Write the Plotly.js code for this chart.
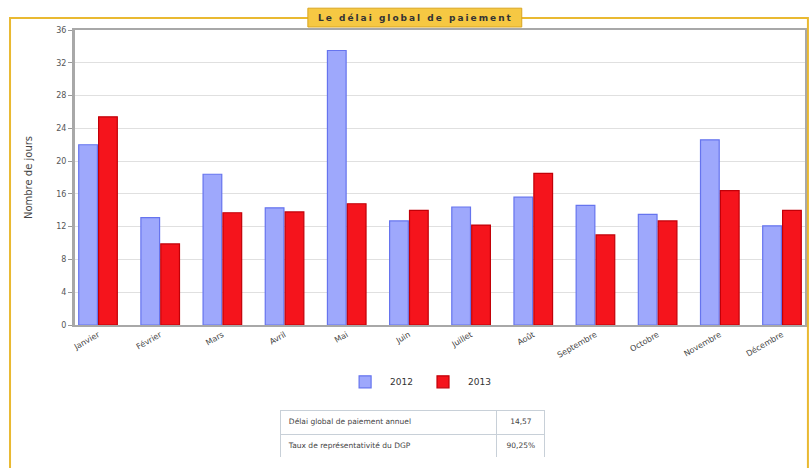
<!DOCTYPE html>
<html><head><meta charset="utf-8">
<script src="https://cdn.plot.ly/plotly-3.0.1.min.js"></script>
<style>html,body{margin:0;padding:0;background:#fff}#chart{width:810px;height:468px}</style>
</head><body><div id="chart"></div>
<script>
var months = ['Janvier','Février','Mars','Avril','Mai','Juin','Juillet','Août','Septembre','Octobre','Novembre','Décembre'];
var values2012 = [22.0, 13.1, 18.4, 14.3, 33.5, 12.7, 14.4, 15.6, 14.6, 13.5, 22.6, 12.1];
var values2013 = [25.4, 9.9, 13.7, 13.8, 14.8, 14.0, 12.2, 18.5, 11.0, 12.7, 16.4, 14.0];
var seriesNames = ['2012', '2013'];
var yTicks = [0, 4, 8, 12, 16, 20, 24, 28, 32, 36];
var tableLabels = ['Délai global de paiement annuel', 'Taux de représentativité du DGP'];
var tableValues = ['14,57', '90,25%'];

var gold = '#e9b931';
var traces = [
  {type:'bar', name:seriesNames[0], x:months, y:values2012,
   marker:{color:'#9ea8fc', line:{color:'#6674ee', width:1.2}}},
  {type:'bar', name:seriesNames[1], x:months, y:values2013,
   marker:{color:'#f5141c', line:{color:'#c20008', width:1.2}}},
  {type:'table', domain:{x:[0.282,0.644], y:[0,0.112]}, columnwidth:[216,48],
   header:{values:[tableLabels[0], tableValues[0]], align:['left','center'], height:24,
     fill:{color:'#fff'}, line:{color:'#c8d0d8', width:1}, font:{family:'DejaVu Sans', size:7.5, color:'#444'}},
   cells:{values:[[tableLabels[1]],[tableValues[1]]], align:['left','center'], height:24,
     fill:{color:'#fff'}, line:{color:'#c8d0d8', width:1}, font:{family:'DejaVu Sans', size:7.5, color:'#444'}}}
];

var layout = {
  width:810, height:468,
  margin:{l:75, r:5, t:30, b:10},
  paper_bgcolor:'#fff', plot_bgcolor:'#fff',
  font:{family:'DejaVu Sans', color:'#333'},
  barmode:'group', bargap:0.36, bargroupgap:0.06,
  showlegend:true,
  legend:{orientation:'h', x:0.47, xanchor:'center', y:0.178, yanchor:'middle',
    font:{size:9, color:'#333'}, itemwidth:40},
  xaxis:{type:'category', range:[-0.37, 11.37], tickangle:-30, tickfont:{size:8, color:'#444'},
    showline:true, linecolor:'#a8a8a8', linewidth:2, mirror:true, ticks:'', showgrid:false, fixedrange:true},
  yaxis:{domain:[0.3107,1], range:[0,36], tickvals:yTicks, tickfont:{size:8, color:'#555'},
    ticks:'outside', ticklen:4, tickcolor:'#999',
    showline:true, linecolor:'#a8a8a8', linewidth:3, mirror:true,
    gridcolor:'#e0e0e0', zeroline:false,
    title:{text:'Nombre de jours', font:{size:10, color:'#444'}, standoff:22}},
  shapes:[
    {type:'path', xref:'paper', yref:'paper',
     path:'M -0.089 -0.03 L -0.089 1.028 L 1.004 1.028 L 1.004 -0.03',
     line:{color:gold, width:2}},
    {type:'rect', xref:'paper', yref:'paper', x0:0.319, x1:0.612, y0:1.007, y1:1.051,
     fillcolor:'#f6c843', line:{color:'#d9a520', width:1}, layer:'above'}
  ],
  annotations:[
    {xref:'paper', yref:'paper', x:0.466, y:1.029, yanchor:'middle', showarrow:false,
     text:'<span style="letter-spacing:2px"><b>Le délai global de paiement</b></span>',
     font:{family:'DejaVu Sans', size:9, color:'#333'}}
  ]
};
Plotly.newPlot('chart', traces, layout, {displayModeBar:false, staticPlot:true});
</script></body></html>
